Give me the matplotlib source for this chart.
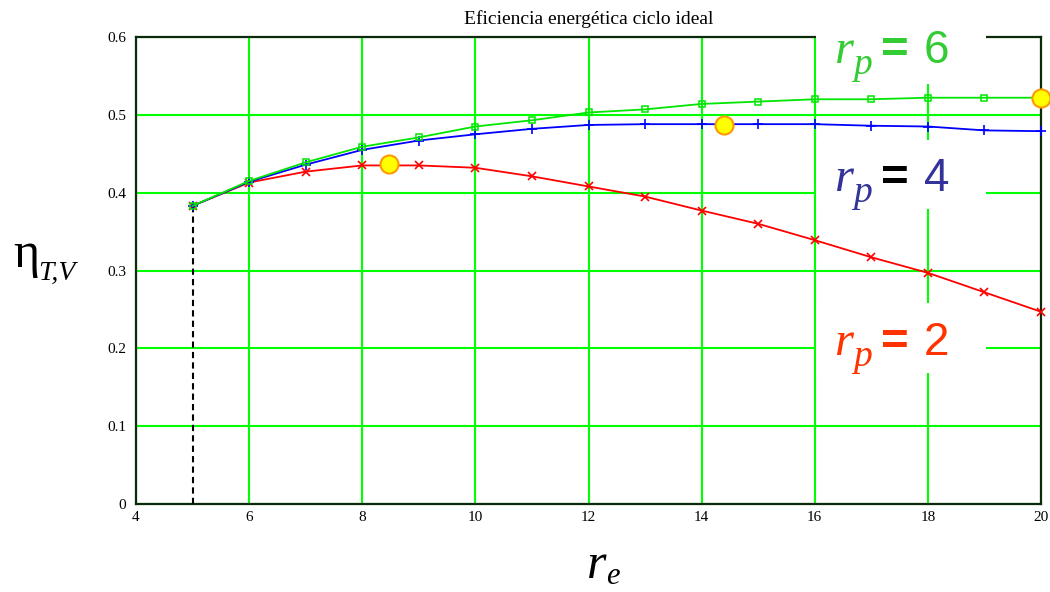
import matplotlib
matplotlib.use('Agg')
import matplotlib.pyplot as plt
from matplotlib.patches import Rectangle

# Ideal-cycle efficiency vs expansion ratio, one curve per pressure ratio
re_vals = [5, 6, 7, 8, 9, 10, 11, 12, 13, 14, 15, 16, 17, 18, 19, 20]
eta_rp2 = [0.383, 0.413, 0.427, 0.435, 0.435, 0.432, 0.421, 0.408,
           0.395, 0.377, 0.360, 0.339, 0.317, 0.297, 0.272, 0.247]
eta_rp4 = [0.383, 0.414, 0.436, 0.455, 0.467, 0.475, 0.482, 0.487,
           0.488, 0.488, 0.488, 0.488, 0.486, 0.485, 0.480, 0.479]
eta_rp6 = [0.383, 0.415, 0.439, 0.459, 0.471, 0.485, 0.493, 0.503,
           0.507, 0.514, 0.517, 0.520, 0.520, 0.522, 0.522, 0.522]

# maxima of each curve
opt_re = [8.47, 14.39, 20.0]
opt_eta = [0.437, 0.487, 0.522]

x_ticks = [4, 6, 8, 10, 12, 14, 16, 18, 20]
y_ticks = [0, 0.1, 0.2, 0.3, 0.4, 0.5, 0.6]
y_ticklabels = ['0', '0.1', '0.2', '0.3', '0.4', '0.5', '0.6']

W, H = 1050, 592
SERIF = 'Liberation Serif'
SANS = 'Liberation Sans'
GRID = '#00ff00'


def px(x, y):
    """pixel position (from top-left) -> figure fraction"""
    return x / W, 1 - y / H


fig = plt.figure(figsize=(W / 100, H / 100), dpi=100)
ax = fig.add_axes([136 / W, 1 - 504 / H, (1041 - 136) / W, (504 - 37) / H])

ax.set_xlim(4, 20)
ax.set_ylim(0, 0.6)
ax.set_xticks(x_ticks)
ax.set_xticklabels([str(t) for t in x_ticks], fontfamily=SERIF, fontsize=11)
ax.set_yticks(y_ticks)
ax.set_yticklabels(y_ticklabels, fontfamily=SERIF, fontsize=11)
ax.tick_params(length=0, pad=7)
ax.tick_params(axis='x', pad=5)

ax.set_axisbelow(True)
ax.grid(True, color=GRID, lw=1.5)
for s in ax.spines.values():
    s.set_color('#0b2a0b')
    s.set_linewidth(1.6)

# white panels behind the curve labels
for (x0, y0, x1, y1) in [(16.03, 0.540, 19.03, 0.66),
                         (16.03, 0.379, 19.03, 0.468),
                         (16.03, 0.168, 19.03, 0.258)]:
    ax.add_patch(Rectangle((x0, y0), x1 - x0, y1 - y0, facecolor='white',
                           edgecolor='none', zorder=3, clip_on=False))

# dashed marker at the starting ratio
ax.plot([re_vals[0], re_vals[0]], [0, eta_rp2[0]], color='black', ls='--',
        lw=1.5, dashes=(3, 2), zorder=4)

ax.plot(re_vals, eta_rp2, color='#ff0000', lw=1.3, marker='x', ms=6,
        mew=1.2, zorder=5, clip_on=False)
ax.plot(re_vals, eta_rp4, color='#0000ff', lw=1.3, marker='+', ms=7,
        mew=1.2, zorder=5, clip_on=False)
ax.plot(re_vals, eta_rp6, color='#00e600', lw=1.3, marker='s', ms=5,
        mfc='none', mew=1.1, zorder=5, clip_on=False)
ax.plot(opt_re, opt_eta, ls='none', marker='o', ms=13, mfc='#ffff00',
        mec='#ff9900', mew=1.5, zorder=6, clip_on=False)

fig.text(*px(589, 24), 'Eficiencia energética ciclo ideal', ha='center',
         va='baseline', fontfamily=SERIF, fontsize=14)

# curve labels: r_p = n
labels = [('6', 63, '#33cc33', '#33cc33'),
          ('4', 191, '#333399', 'black'),
          ('2', 355, '#ff3300', '#ff3300')]
for num, base, col, eq_col in labels:
    fig.text(*px(834, base), 'r', fontfamily=SERIF, style='italic',
             fontsize=35, color=col, va='baseline', zorder=7)
    fig.text(*px(853, base + 11), 'p', fontfamily=SERIF, style='italic',
             fontsize=27, color=col, va='baseline', zorder=7)
    fig.text(*px(881, base), '=', fontfamily=SANS, fontweight='bold',
             fontsize=34, color=eq_col, va='baseline', zorder=7)
    fig.text(*px(924, base), num, fontfamily=SANS, fontsize=33,
             color=col, va='baseline', zorder=7)

# axis labels
fig.text(*px(13, 267), 'η', fontfamily=SERIF, fontsize=36, va='baseline')
fig.text(*px(38, 280), 'T,V', fontfamily=SERIF, style='italic',
         fontsize=20, va='baseline')
fig.text(*px(587, 578), 'r', fontfamily=SERIF, style='italic',
         fontsize=36, va='baseline')
fig.text(*px(606, 584), 'e', fontfamily=SERIF, style='italic',
         fontsize=22, va='baseline')

fig.savefig('out.png', dpi=100)
